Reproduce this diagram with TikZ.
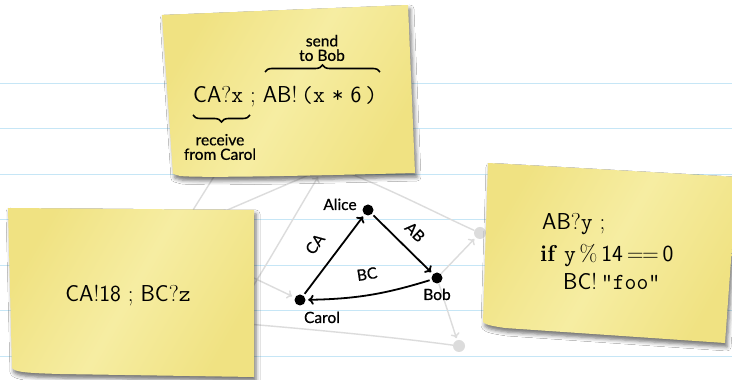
\documentclass[tikz,border=0pt]{standalone}
\usepackage{fontspec}
\newfontfamily\lbl[FakeBold=0.6]{Lato}
\usetikzlibrary{arrows.meta,decorations.pathreplacing,shadows.blur}
\definecolor{noteA}{RGB}{240,226,130}
\definecolor{noteB}{RGB}{246,237,162}
\definecolor{rulecol}{RGB}{198,230,246}
\definecolor{faint}{RGB}{220,220,220}
\newcommand\Chan[1]{\textsf{#1}}
\newcommand\Var[1]{\texttt{#1}}
\begin{document}
\begin{tikzpicture}[x=1pt,y=1pt,
  note/.style={left color=noteA, right color=noteA, middle color=noteB, shading angle=60,
    blur shadow={shadow xshift=2pt, shadow yshift=-4pt, shadow blur radius=4pt, shadow opacity=55}},
  notetext/.style={inner sep=0pt, font=\fontsize{23}{28}\selectfont},
  lab/.style={inner sep=0pt, font=\lbl\fontsize{15.5}{17}\selectfont},
  bracelab/.style={inner sep=0pt, align=center, font=\lbl\fontsize{15.5}{14.5}\selectfont},
  dot/.style={circle, fill=black, inner sep=0pt, minimum size=11pt},
  gdot/.style={circle, fill=faint, inner sep=0pt, minimum size=12pt},
  arr/.style={line width=1.8pt, -{Computer Modern Rightarrow[length=5.5pt,width=10pt]}, shorten >=2.5pt, shorten <=2pt},
  gline/.style={draw=faint, line width=1.4pt},
  garr/.style={gline, -{Computer Modern Rightarrow[length=5pt,width=9pt]}},
  bracestyle/.style={line width=1.6pt, decorate},
]
\clip (0,0) rectangle (732,380);
\fill[white] (0,0) rectangle (732,380);
% ruled lines
\foreach \yy in {296.5,251,205.5,160,114.5,69,23.5}
  \draw[rulecol, line width=1pt] (0,\yy) -- (732,\yy);

% faint network
\node[gdot] (g1) at (480,147) {};
\node[gdot] (g2) at (459,34) {};
\coordinate (f3) at (235,57);
\coordinate (f4) at (235,111);
\coordinate (f5a) at (218,166);
\coordinate (f5b) at (318,209);
\coordinate (f6a) at (220,213);
\coordinate (f6b) at (188,162);
\coordinate (f7a) at (240,73);
\coordinate (f7b) at (318,203);
\coordinate (f8) at (340,210);

% main nodes (needed for faint arrows)
\node[dot] (alice) at (368,170) {};
\node[dot] (bob) at (437,102) {};
\node[dot] (carol) at (300,80) {};

\draw[garr, shorten >=2pt] (bob) -- (g1);
\draw[garr, shorten >=2pt] (bob) -- (g2);
\draw[gline] (f3) .. controls (320,50) and (400,42) .. (g2);
\draw[garr, shorten >=3pt] (f4) -- (carol);
\draw[gline] (f5a) -- (f5b);
\draw[gline] (f6a) -- (f6b);
\draw[garr] (f7a) .. controls (270,120) and (295,165) .. (f7b);
\draw[gline] (f8) .. controls (380,196) and (440,165) .. (g1);

% sticky notes
\shade[note] (162,365) -- (408,375) -- (415,207) .. controls (300,204) and (200,202) .. (180,204) -- (173,206) -- cycle;
\shade[note] (8,172) -- (254,170) -- (254,3) -- (60,6) .. controls (25,7) and (15,8) .. (12,12) -- cycle;
\shade[note] (488,217) -- (737,203) -- (725,37) -- (505,52) .. controls (492,54) and (486,55) .. (483,58) -- cycle;

% top note text
\node[notetext, anchor=base west] (top) at (193,277)
  {\Chan{CA}?\Var{x}\ ;\ \Chan{AB}!\,\Var{(x}\ \Var{*}\ \Chan{6}\,\Var{)}};
\draw[bracestyle, decoration={brace, mirror, amplitude=7pt}] (193,265) -- (250,265);
\draw[bracestyle, decoration={brace, amplitude=7pt}] (265,308) -- (380,308);
\node[bracelab] (recv) at (220,233) {receive\\from Carol};
\node[bracelab] (send) at (322,332) {send\\to Bob};

% left note text
\node[notetext, anchor=base] (left) at (128,78)
  {\Chan{CA}!\Chan{18}\ ;\ \Chan{BC}?\Var{z}};

% right note text
\node[notetext, anchor=base west] (r1) at (542,150) {\Chan{AB}?\Var{y}\ ;};
\node[notetext, anchor=base west] (r2) at (540,118) {\textbf{if} \Var{y}\,\%\,\Chan{14}\,\Chan{=\kern-1.5pt=}\,\Chan{0}};
\node[notetext, anchor=base west] (r3) at (563,90) {\Chan{BC}!\,\Var{"foo"}};

% main diagram
\draw[arr] (carol) -- (alice);
\draw[arr] (alice) -- (bob);
\draw[arr] (bob) to[bend left=8] (carol);
\node[lab, anchor=base] (alab) at (340,170) {Alice};
\node[lab, anchor=base] (blab) at (437,80) {Bob};
\node[lab, anchor=base] (clab) at (322,57) {Carol};
\node[lab, rotate=53] (ca) at (315,136) {CA};
\node[lab, rotate=-44.6] (ab) at (415,148) {AB};
\node[lab, rotate=9] (bc) at (367,106) {BC};
\end{tikzpicture}
\end{document}
